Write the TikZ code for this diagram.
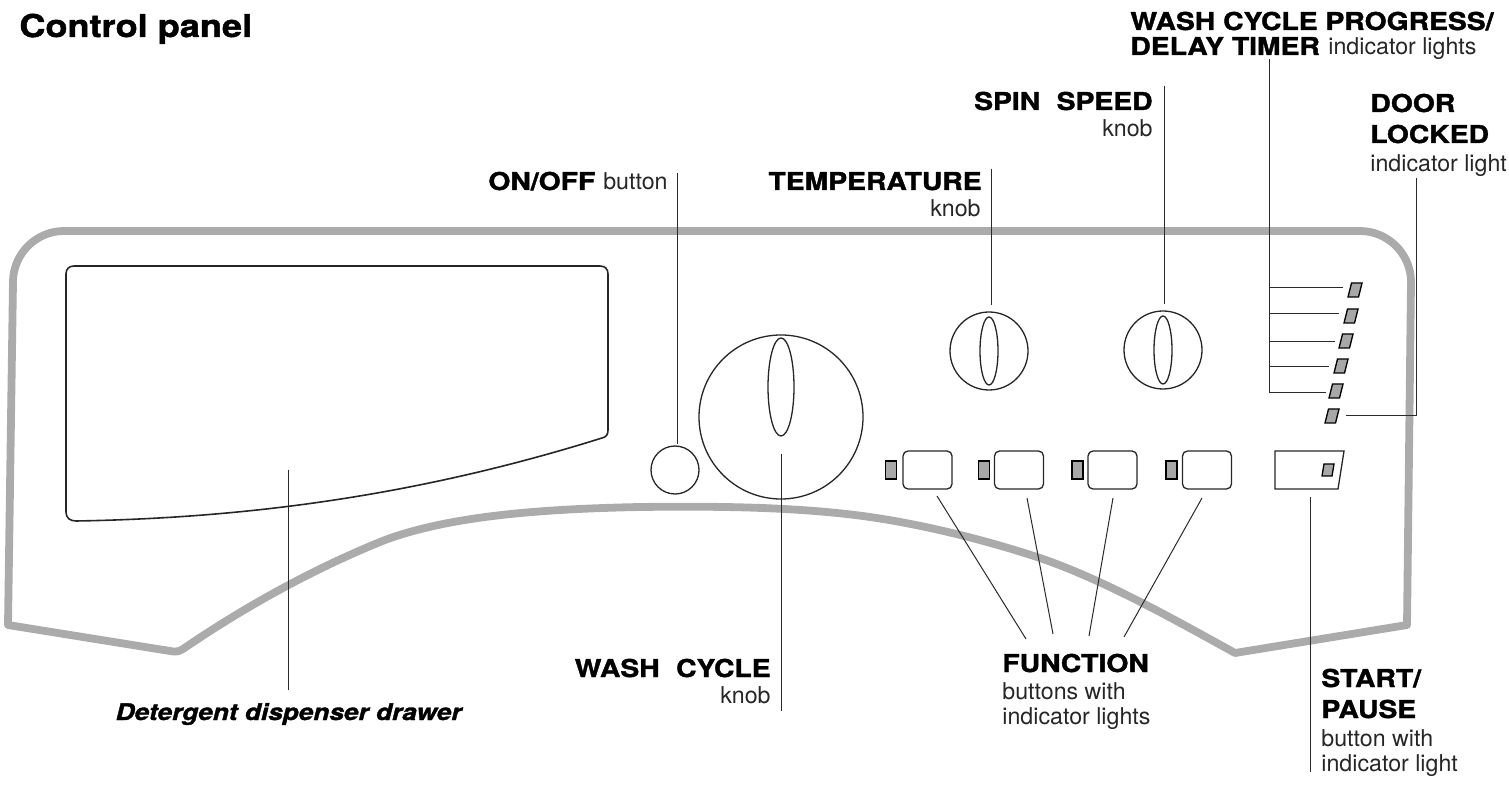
\documentclass[tikz,border=0pt]{standalone}
\usepackage{fontspec}
\setmainfont{TeX Gyre Heros}
\newfontfamily\heavy[FakeStretch=1.15,FakeBold=1.5]{TeX Gyre Heros Bold}
\newfontfamily\heavyit[FakeStretch=1.15,FakeBold=1.5]{TeX Gyre Heros Bold Italic}
\definecolor{panelgray}{HTML}{ABABAB}
\definecolor{lampgray}{HTML}{A8A8A8}
\definecolor{leadgray}{HTML}{2A2A2A}
\tikzset{
	panelline/.style={line width=3.9pt,color=panelgray,line join=round},
	partline/.style={line width=0.65pt,color=black!85},
	lead/.style={line width=0.5pt,color=leadgray},
	lampbox/.style={line width=0.65pt,draw=black,fill=lampgray},
	title/.style={font=\heavy\fontsize{12.3}{14}\selectfont,inner sep=0pt},
	hint/.style={font=\fontsize{11.6}{14}\selectfont,inner sep=0pt,text=black!85},
	buttonbox/.style={draw,partline,rounded corners=2.5pt,minimum width=24.5pt,minimum height=19pt,inner sep=0pt},
	knobbox/.style={draw,partline,circle,inner sep=0pt}
}
\begin{document}
\begin{tikzpicture}[x=0.5pt,y=-0.5pt]
\useasboundingbox (0,0) rectangle (1509,790);

\def\lampskew#1{
	\draw[lampbox,shift={#1}] (-7,7) -- (-3.5,-7) -- (7,-7) -- (3.5,7) -- cycle;
}
\def\lampflat#1{
	\draw[lampbox,shift={#1}] (-5.5,-9) rectangle (5.5,9);
}

% panel outline
\draw[panelline]
	   (8,625) -- (13,282) .. controls (13,254) and (36,231) .. (64,231)
	-- (1360,231) .. controls (1388,231) and (1411,254) .. (1411,282)
	-- (1407,625) -- (1235,653)
	.. controls (1170,617) and (1100,578) .. (1037,557)
	.. controls (985,540) and (925,525) .. (870,517)
	.. controls (800,507) and (720,506) .. (640,507)
	.. controls (540,509) and (450,516) .. (385,540)
	.. controls (310,570) and (240,610) .. (183,649)
	.. controls (178,652) and (175,652) .. (170,651)
	-- cycle;

% drawer
\draw[partline,line width=0.8pt]
	   (74,266) -- (600,266) .. controls (605,266) and (608,269) .. (608,274)
	-- (608,430) .. controls (608,435) and (606,437) .. (602,438)
	.. controls (420,495) and (250,518) .. (76,521)
	.. controls (70,521) and (66,518) .. (66,512)
	-- (66,274) .. controls (66,269) and (69,266) .. (74,266) -- cycle;

% knobs and buttons
\node[knobbox,minimum size=82pt] (washknob) at (781,417) {};
\node[knobbox,minimum size=39pt] (tempknob) at (989,351) {};
\node[knobbox,minimum size=39pt] (spinknob) at (1163,350) {};
\node[knobbox,minimum size=24pt] (onbutton) at (675,470) {};
\draw[partline] (781,387) ellipse[x radius=13,y radius=49];
\draw[partline] (989,351) ellipse[x radius=9,y radius=34];
\draw[partline] (1163,350) ellipse[x radius=9,y radius=34];

\foreach \n/\x in {1/927.5,2/1019,3/1112.5,4/1207}{
	\node[buttonbox] (func\n) at (\x,470) {};
}
\foreach \x in {891,984,1077.5,1171.5}{
	\lampflat{(\x,470)}
}
\draw[partline] (1275,451) -- (1344,451) -- (1338,489) -- (1275,489) -- cycle;
\draw[lampbox,shift={(1328,470)}] (-6,6) -- (-4,-6) -- (6,-6) -- (4,6) -- cycle;

\foreach \p in {(1355,290),(1351,316),(1346,341),(1341,366),(1336,391),(1332,416)}{
	\lampskew{\p}
}

% labels
\node[title,anchor=base west,font=\heavy\fontsize{15.7}{18}\selectfont] (paneltitle) at (19,37) {Control panel};
\node[title,anchor=base west] (progress) at (1130,30) {WASH CYCLE PROGRESS/};
\node[title,anchor=base west] (delay) at (1130,55) {DELAY TIMER};
\node[hint,anchor=base west] (delayhint) at (1328,55) {indicator lights};
\node[title,anchor=base east] (spin) at (1153,110) {SPIN\hspace{0.35em} SPEED};
\node[hint,anchor=base east] (spinhint) at (1153,137) {knob};
\node[title,anchor=base west] (door) at (1370,112) {DOOR};
\node[title,anchor=base west] (locked) at (1370,143) {LOCKED};
\node[hint,anchor=base west] (doorhint) at (1370,172) {indicator light};
\node[title,anchor=base west] (onoff) at (488,190) {ON/OFF};
\node[hint,anchor=base east] (onoffhint) at (668,190) {button};
\node[title,anchor=base east] (temp) at (982,190) {TEMPERATURE};
\node[hint,anchor=base east] (temphint) at (981,217) {knob};
\node[title,anchor=base east] (washcycle) at (771,677) {WASH\hspace{0.35em} CYCLE};
\node[hint,anchor=base east] (washhint) at (771,703) {knob};
\node[title,anchor=base east,font=\heavyit\fontsize{11.4}{14}\selectfont] (drawer) at (462,720) {Detergent dispenser drawer};
\node[title,anchor=base west] (function) at (1002,672) {FUNCTION};
\node[hint,anchor=base west] (funcone) at (1002,699) {buttons with};
\node[hint,anchor=base west] (functwo) at (1002,724) {indicator lights};
\node[title,anchor=base west] (start) at (1321,687) {START/};
\node[title,anchor=base west] (pause) at (1321,718) {PAUSE};
\node[hint,anchor=base west] (startone) at (1321,746) {button with};
\node[hint,anchor=base west] (starttwo) at (1321,771) {indicator light};

% leader ends
\coordinate (ontop) at (677,173);
\coordinate (onend) at (677,444);
\coordinate (temptop) at (991,169);
\coordinate (tempend) at (991,305);
\coordinate (spintop) at (1164,86);
\coordinate (spinend) at (1164,304);
\coordinate (washtop) at (781,454);
\coordinate (washend) at (781,711);
\coordinate (drawertop) at (288,470);
\coordinate (drawerend) at (288,690);
\coordinate (starttop) at (1310,497);
\coordinate (startend) at (1310,772);
\coordinate (doortop) at (1416,178);
\coordinate (doorcorner) at (1416,416);
\coordinate (doorend) at (1346,416);
\coordinate (progtop) at (1269,59);
\coordinate (progend) at (1269,393);

\draw[lead] (ontop) -- (onend);
\draw[lead] (temptop) -- (tempend);
\draw[lead] (spintop) -- (spinend);
\draw[lead] (washtop) -- (washend);
\draw[lead] (drawertop) -- (drawerend);
\draw[lead] (starttop) -- (startend);
\draw[lead] (doortop) -- (doorcorner) -- (doorend);
\draw[lead] (progtop) -- (progend);

\foreach \n/\y/\x in {1/288/1343,2/314/1339,3/342/1335,4/366.5/1329,5/393/1326}{
	\coordinate (tickin\n) at (1269,\y);
	\coordinate (tickout\n) at (\x,\y);
	\draw[lead] (tickin\n) -- (tickout\n);
}

\foreach \n/\a/\b/\c/\d in {1/937/496/1026/639,2/1027/498/1053/634,3/1113/498/1089/636,4/1202/498/1124/637}{
	\coordinate (funcin\n) at (\a,\b);
	\coordinate (funcout\n) at (\c,\d);
	\draw[lead] (funcin\n) -- (funcout\n);
}

\end{tikzpicture}
\end{document}
